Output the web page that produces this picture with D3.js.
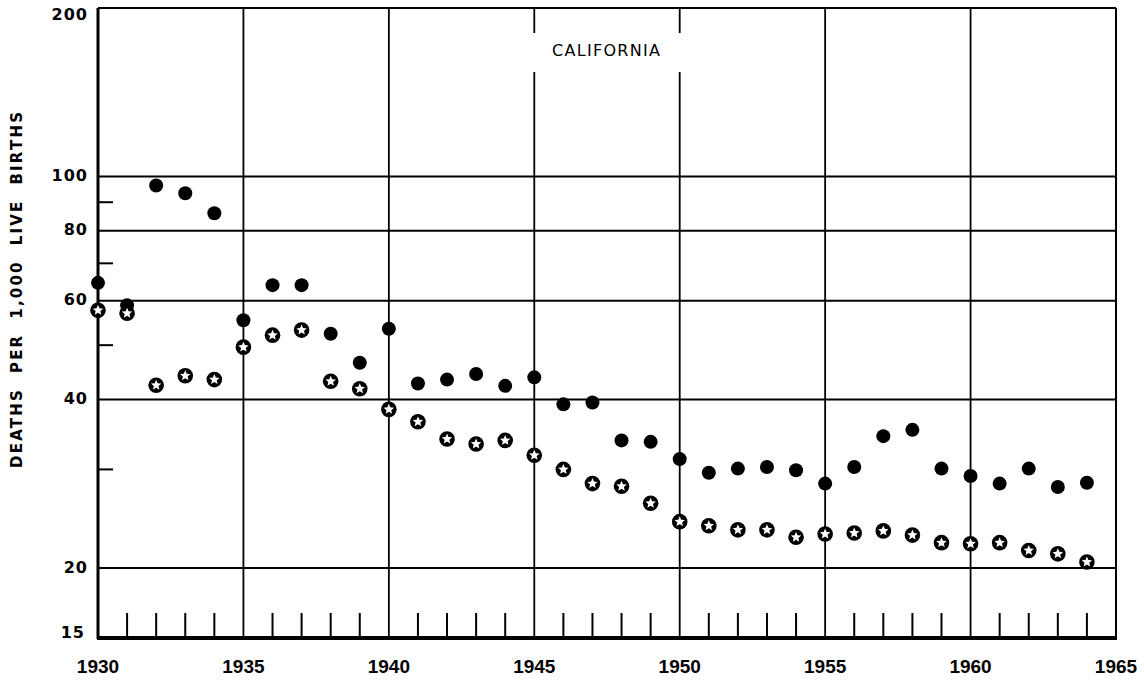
<!DOCTYPE html>
<html>
<head>
<meta charset="utf-8">
<script src="https://cdn.jsdelivr.net/npm/d3@7"></script>
<style>
  html, body { margin: 0; padding: 0; background: #fff; }
  svg { display: block; }
</style>
</head>
<body>
<svg id="chart" width="1144" height="685"></svg>
<script>
// ---- data ----
const years = d3.range(1930, 1965); // 1930..1964
const solidSeries = [64.6, 58.9, 96.4, 93.4, 86.0, 55.4, 64.0, 64.0, 52.4, 46.5,
  53.5, 42.7, 43.4, 44.4, 42.3, 43.8, 39.2, 39.5, 33.8, 33.6,
  31.3, 29.6, 30.1, 30.3, 29.9, 28.3, 30.3, 34.4, 35.3, 30.1,
  29.2, 28.3, 30.1, 27.9, 28.4];
const starSeries = [57.7, 57.0, 42.4, 44.1, 43.4, 49.6, 52.1, 53.2, 43.1, 41.8,
  38.4, 36.5, 34.0, 33.3, 33.8, 31.8, 30.0, 28.3, 28.0, 26.1,
  24.2, 23.8, 23.4, 23.4, 22.7, 23.0, 23.1, 23.3, 22.9, 22.2,
  22.1, 22.2, 21.5, 21.2, 20.5];
const yTickLabels = [15, 20, 40, 60, 80, 100, 200];
const yGridValues = [20, 40, 60, 80, 100];
const yMinorTicks = [30, 50, 70, 90];
const xTickLabels = [1930, 1935, 1940, 1945, 1950, 1955, 1960, 1965];
const xGridValues = [1935, 1940, 1945, 1950, 1955, 1960];
const xMinorTicks = d3.range(1931, 1965).filter(y => y % 5 !== 0);
const titleText = "CALIFORNIA";
const yTitle = "DEATHS PER 1,000 LIVE BIRTHS";

// ---- scales ----
const svg = d3.select("#chart");
const x = d3.scaleLinear().domain([1930, 1965]).range([98, 1116]);
const y = d3.scaleLog().domain([15, 200]).range([638, 8]);
const X0 = x(1930), X1 = x(1965), Y0 = y(15), Y1 = y(200);

const g = svg.append("g");

// horizontal grid lines
g.selectAll("line.hgrid").data(yGridValues).enter().append("line")
  .attr("x1", X0).attr("x2", X1)
  .attr("y1", d => y(d)).attr("y2", d => y(d))
  .attr("stroke", "#000").attr("stroke-width", 2);

// vertical grid lines
g.selectAll("line.vgrid").data(xGridValues).enter().append("line")
  .attr("x1", d => x(d)).attr("x2", d => x(d))
  .attr("y1", Y1).attr("y2", Y0)
  .attr("stroke", "#000").attr("stroke-width", 1.8);

// frame: top, right
g.append("line").attr("x1", X0).attr("x2", X1).attr("y1", Y1).attr("y2", Y1)
  .attr("stroke", "#000").attr("stroke-width", 2);
g.append("line").attr("x1", X1).attr("x2", X1).attr("y1", Y1).attr("y2", Y0)
  .attr("stroke", "#000").attr("stroke-width", 2);

// title box (interrupts grid)
const titleX = 606, titleY = 51;
g.append("rect").attr("x", 540).attr("y", 33).attr("width", 135).attr("height", 38)
  .attr("fill", "#fff");
g.append("rect").attr("x", x(1945) - 2).attr("y", 33).attr("width", 4).attr("height", 39).attr("fill", "#fff");
g.append("rect").attr("x", x(1950) - 2).attr("y", 33).attr("width", 4).attr("height", 39).attr("fill", "#fff");
g.append("text").attr("x", titleX).attr("y", titleY).attr("text-anchor", "middle")
  .attr("dominant-baseline", "middle")
  .attr("font-family", "'DejaVu Sans', sans-serif").attr("font-size", 16)
  .attr("textLength", 108).attr("lengthAdjust", "spacing")
  .attr("fill", "#000").text(titleText);

// left axis
g.append("line").attr("x1", X0).attr("x2", X0).attr("y1", Y1).attr("y2", Y0 + 1)
  .attr("stroke", "#000").attr("stroke-width", 3);
// minor y ticks
g.selectAll("line.ymin").data(yMinorTicks).enter().append("line")
  .attr("x1", X0).attr("x2", X0 + 15)
  .attr("y1", d => y(d)).attr("y2", d => y(d))
  .attr("stroke", "#000").attr("stroke-width", 2);

// bottom axis
g.append("line").attr("x1", X0 - 1).attr("x2", X1 + 1).attr("y1", Y0).attr("y2", Y0)
  .attr("stroke", "#000").attr("stroke-width", 4);
g.selectAll("line.xmin").data(xMinorTicks).enter().append("line")
  .attr("x1", d => x(d)).attr("x2", d => x(d))
  .attr("y1", Y0 - 25).attr("y2", Y0)
  .attr("stroke", "#000").attr("stroke-width", 2);

// y labels
g.selectAll("text.ylab").data(yTickLabels).enter().append("text")
  .attr("x", d => d === 15 ? 85 : 88)
  .attr("y", d => d === 200 ? y(d) + 7 : (d === 15 ? y(d) - 5 : y(d)))
  .attr("text-anchor", "end").attr("dominant-baseline", "middle")
  .attr("font-family", "'DejaVu Sans', sans-serif").attr("font-weight", "bold")
  .attr("font-size", 16).attr("letter-spacing", 1)
  .text(d => d);

// x labels
g.selectAll("text.xlab").data(xTickLabels).enter().append("text")
  .attr("x", d => x(d)).attr("y", 673)
  .attr("text-anchor", "middle")
  .attr("font-family", "'Liberation Sans', Arial, sans-serif").attr("font-weight", "bold")
  .attr("font-size", 19)
  .text(d => d);

// y title
g.append("text")
  .attr("transform", "translate(22,290) rotate(-90)")
  .attr("text-anchor", "middle")
  .attr("font-family", "'DejaVu Sans', sans-serif").attr("font-weight", "bold")
  .attr("font-size", 15)
  .attr("textLength", 356).attr("lengthAdjust", "spacing")
  .text(yTitle.replace(/ /g, "\u00a0\u00a0"));

// solid dots
g.selectAll("circle.solid").data(years).enter().append("circle")
  .attr("cx", d => x(d)).attr("cy", (d, i) => y(solidSeries[i]))
  .attr("r", 7).attr("fill", "#000");

// star markers
const starPath = (() => {
  const pts = [];
  const R = 5.5, r = 2.5;
  for (let k = 0; k < 10; k++) {
    const a = -Math.PI / 2 + k * Math.PI / 5;
    const rr = k % 2 === 0 ? R : r;
    pts.push([rr * Math.cos(a), rr * Math.sin(a)]);
  }
  return "M" + pts.map(p => p[0].toFixed(2) + "," + p[1].toFixed(2)).join("L") + "Z";
})();
const stars = g.selectAll("g.star").data(years).enter().append("g")
  .attr("transform", (d, i) => `translate(${x(d)},${y(starSeries[i])})`);
stars.append("circle").attr("r", 7.8).attr("fill", "#000");
stars.append("path").attr("d", starPath).attr("fill", "#fff");
</script>
</body>
</html>
